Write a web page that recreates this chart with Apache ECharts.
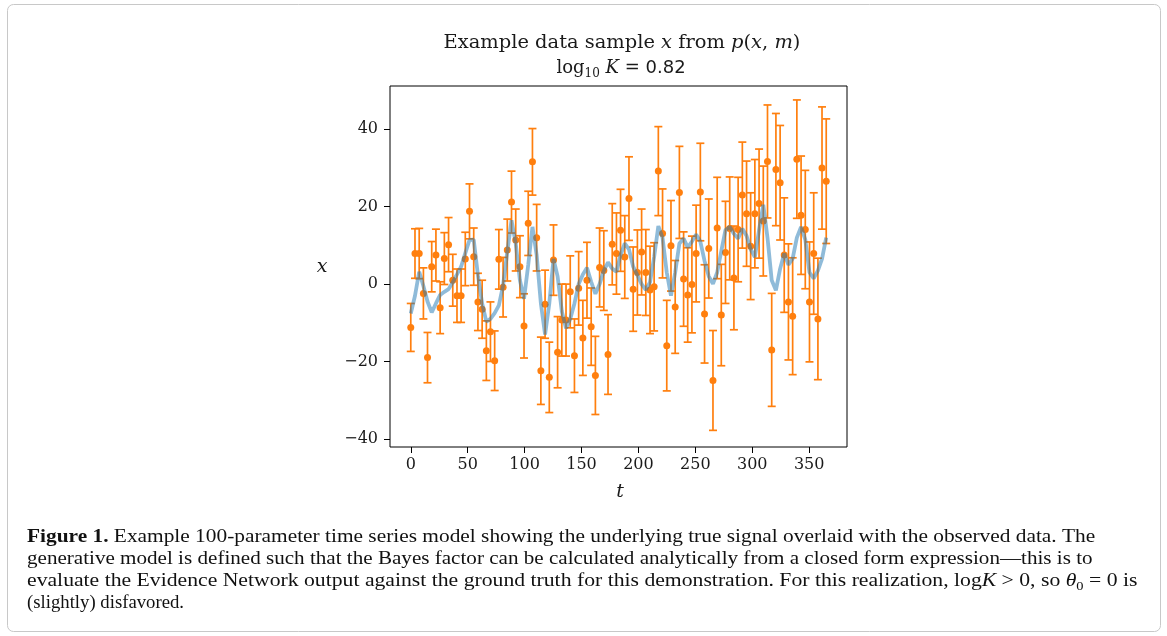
<!DOCTYPE html>
<html>
<head>
<meta charset="utf-8">
<script src="https://cdn.jsdelivr.net/npm/echarts@6/dist/echarts.min.js"></script>
<style>
  html, body { margin: 0; padding: 0; background: #fff; }
  #chart { width: 1167px; height: 636px; }
</style>
</head>
<body>
<div id="chart"></div>
<script>
// ---- data ----
const tValues = [0, 3.7, 7.4, 11.1, 14.7, 18.4, 22.1, 25.8, 29.5, 33.2, 36.9, 40.6, 44.2, 47.9, 51.6, 55.3, 59.0, 62.7, 66.4, 70.0,
  73.7, 77.4, 81.1, 84.8, 88.5, 92.2, 95.9, 99.5, 103.2, 106.9, 110.6, 114.3, 118.0, 121.7, 125.4, 129.0, 132.7, 136.4, 140.1, 143.8,
  147.5, 151.2, 154.8, 158.5, 162.2, 165.9, 169.6, 173.3, 177.0, 180.7, 184.3, 188.0, 191.7, 195.4, 199.1, 202.8, 206.5, 210.2, 213.8, 217.5,
  221.2, 224.9, 228.6, 232.3, 236.0, 239.7, 243.3, 247.0, 250.7, 254.4, 258.1, 261.8, 265.5, 269.2, 272.8, 276.5, 280.2, 283.9, 287.6, 291.3,
  295.0, 298.6, 302.3, 306.0, 309.7, 313.4, 317.1, 320.8, 324.5, 328.1, 331.8, 335.5, 339.2, 342.9, 346.6, 350.3, 354.0, 357.7, 361.3, 365.0];

const observed = [-11.2, 7.9, 7.9, -2.4, -19.0, 4.5, 7.5, -6.1, 6.6, 10.2, 1.0, -3.0, -3.0, 6.5, 18.8, 7.1, -4.6, -6.5, -17.2, -12.3,
  -19.8, 6.4, -0.8, 8.8, 21.2, 11.4, 4.5, -10.8, 15.7, 31.6, 12.0, -22.4, -5.2, -24.1, 6.2, -17.6, -9.3, -9.3, -2.0, -18.5,
  -1.1, -13.9, 1.0, -11.0, -23.6, 4.3, 3.5, -18.2, 10.3, 7.9, 13.9, 7.0, 22.1, -1.3, 3.0, 8.3, 3.0, -1.5, -0.7, 29.2,
  13.1, -15.9, 9.9, -5.9, 23.7, 1.3, -2.8, -0.1, 7.9, 23.8, -7.7, 9.2, -24.9, 14.5, -8.0, 8.2, 14.4, 1.6, 14.1, 23.0,
  18.2, 9.8, 18.2, 20.8, 16.3, 31.7, -17.0, 29.6, 26.2, 7.5, -4.6, -8.3, 32.3, 17.8, 14.1, -4.6, 7.9, -9.0, 30.0, 26.6];

const errors = [6.2, 6.4, 6.5, 6.6, 6.5, 6.5, 6.7, 6.7, 6.7, 7.0, 6.7, 6.9, 6.9, 6.9, 7.1, 7.4, 7.4, 7.5, 7.7, 7.7,
  7.7, 7.7, 7.7, 8.0, 8.0, 8.0, 8.0, 8.3, 8.3, 8.6, 8.6, 8.7, 8.8, 9.1, 9.1, 9.2, 9.3, 9.3, 9.3, 9.5,
  9.5, 9.7, 9.8, 10.0, 10.1, 10.2, 10.3, 10.3, 10.5, 10.5, 10.6, 10.7, 10.8, 10.9, 11.0, 11.1, 11.1, 11.3, 11.4, 11.5,
  11.5, 11.7, 11.7, 12.0, 11.9, 12.2, 12.2, 12.5, 12.5, 12.6, 12.7, 12.8, 12.9, 13.1, 13.1, 13.2, 13.3, 13.4, 13.5, 13.7,
  13.6, 13.8, 14.0, 14.1, 14.2, 14.6, 14.6, 14.5, 14.8, 14.8, 15.0, 15.1, 15.3, 15.3, 15.3, 15.5, 15.7, 15.7, 15.8, 16.1];

const trueSignal = [-7.6, -3.0, 3.2, -0.5, -4.5, -7.3, -5.0, -2.8, -2.0, -1.3, 0.5, 2.5, 4.5, 8.0, 11.4, 11.5, 2.3, -5.0, -9.7, -9.0,
  -7.5, -5.5, -0.3, 8.3, 16.5, 10.5, 1.0, -3.8, 5.0, 14.8, 7.5, -5.0, -13.0, -5.0, 6.5, 2.0, -7.0, -11.4, -9.0, -5.0,
  0.0, 2.5, 4.2, 0.6, -2.5, 0.0, 3.5, 5.6, 4.0, 3.2, 7.5, 10.5, 9.0, 4.5, 2.3, 0.0, -1.5, 0.5, 7.0, 15.0,
  12.0, 3.0, -3.0, 3.0, 10.5, 11.8, 9.5, 11.0, 12.8, 11.0, 6.0, 2.0, 0.1, 3.0, 8.5, 14.0, 14.8, 13.0, 11.8, 14.3,
  12.5, 9.0, 7.0, 14.0, 20.5, 12.0, 1.0, -1.6, 4.0, 7.9, 5.0, 6.6, 12.0, 14.8, 11.5, 3.0, 1.5, 3.5, 6.5, 12.0];

const xTicks = [0, 50, 100, 150, 200, 250, 300, 350];
const yTicks = [-40, -20, 0, 20, 40];

// ---- build chart ----
const chart = echarts.init(document.getElementById('chart'), null, { renderer: 'canvas' });

const ORANGE = '#ff7f0e';
const BLUE = '#1f77b4';
const serif = '"DejaVu Serif", serif';
const capSerif = '"Liberation Serif", serif';
const capHalf = 4;

const errData = tValues.map((t, i) => [t, observed[i] - errors[i], observed[i] + errors[i]]);
const pointData = tValues.map((t, i) => [t, observed[i]]);
const lineData = tValues.map((t, i) => [t, trueSignal[i]]);

function fmtTick(v) { return v < 0 ? '\u2212' + Math.abs(v) : String(v); }

const GRID = { left: 390, top: 86, width: 457, height: 361 };

const option = {
  backgroundColor: '#ffffff',
  animation: false,
  grid: {
    left: GRID.left, top: GRID.top, width: GRID.width, height: GRID.height,
    show: true, borderColor: '#000', borderWidth: 1, backgroundColor: 'transparent'
  },
  xAxis: {
    type: 'value', min: -18.25, max: 383.25,
    axisLine: { show: false, onZero: false },
    splitLine: { show: false },
    axisTick: { show: true, inside: false, length: 6, customValues: xTicks, lineStyle: { color: '#000', width: 1 } },
    axisLabel: { show: true, customValues: xTicks, formatter: fmtTick, margin: 10,
      fontFamily: serif, fontSize: 16, color: '#1a1a1a' }
  },
  yAxis: {
    type: 'value', min: -42.1, max: 51.2,
    axisLine: { show: false, onZero: false },
    splitLine: { show: false },
    axisTick: { show: true, inside: false, length: 6, customValues: yTicks, lineStyle: { color: '#000', width: 1 } },
    axisLabel: { show: true, customValues: yTicks, formatter: fmtTick, margin: 12,
      fontFamily: serif, fontSize: 16, color: '#1a1a1a' }
  },
  series: [
    {
      type: 'custom',
      name: 'errorbars',
      data: errData,
      z: 2,
      encode: { x: 0, y: [1, 2] },
      renderItem: function (params, api) {
        const t = api.value(0);
        const lo = api.coord([t, api.value(1)]);
        const hi = api.coord([t, api.value(2)]);
        const style = { stroke: ORANGE, lineWidth: 1.7 };
        return {
          type: 'group',
          children: [
            { type: 'line', shape: { x1: lo[0], y1: lo[1], x2: hi[0], y2: hi[1] }, style: style },
            { type: 'line', shape: { x1: lo[0] - capHalf, y1: lo[1], x2: lo[0] + capHalf, y2: lo[1] }, style: style },
            { type: 'line', shape: { x1: hi[0] - capHalf, y1: hi[1], x2: hi[0] + capHalf, y2: hi[1] }, style: style }
          ]
        };
      }
    },
    {
      type: 'scatter',
      name: 'observed',
      data: pointData,
      symbol: 'circle',
      symbolSize: 7,
      z: 3,
      itemStyle: { color: ORANGE, opacity: 1 }
    },
    {
      type: 'line',
      name: 'true signal',
      data: lineData,
      showSymbol: false,
      z: 4,
      lineStyle: { color: BLUE, width: 3.8, opacity: 0.5 },
      itemStyle: { color: BLUE }
    }
  ],
  graphic: [
    { type: 'rect', left: 7, top: 4, z: -10, silent: true,
      shape: { width: 1153, height: 627, r: 6 },
      style: { fill: 'transparent', stroke: '#c8c8c8', lineWidth: 1 } },
    { type: 'text', x: 622, y: 43, scaleX: 1.08, silent: true,
      style: {
        text: '{r|Example data sample }{i|x}{r| from }{i|p}{r|(}{i|x}{r|, }{i|m}{r|)}',
        align: 'center', verticalAlign: 'middle',
        rich: {
          r: { fontFamily: serif, fontSize: 18, fill: '#1a1a1a' },
          i: { fontFamily: serif, fontSize: 18, fontStyle: 'italic', fill: '#1a1a1a' }
        }
      }
    },
    { type: 'text', x: 621, y: 68, silent: true,
      style: {
        text: '{r|log}{s|10}{r| }{i|K}{r| = }{n|0.82}',
        align: 'center', verticalAlign: 'middle',
        rich: {
          r: { fontFamily: serif, fontSize: 18, fill: '#1a1a1a', verticalAlign: 'bottom' },
          s: { fontFamily: serif, fontSize: 12, fill: '#1a1a1a', verticalAlign: 'bottom', padding: [0, 0, -3, 0] },
          i: { fontFamily: serif, fontSize: 18, fontStyle: 'italic', fill: '#1a1a1a', verticalAlign: 'bottom' },
          n: { fontFamily: '"DejaVu Sans", sans-serif', fontSize: 18, fill: '#1a1a1a', verticalAlign: 'bottom' }
        }
      }
    },
    { type: 'text', x: 322, y: 267, silent: true,
      style: { text: 'x', fontFamily: serif, fontSize: 19, fontStyle: 'italic', fill: '#1a1a1a',
        align: 'center', verticalAlign: 'middle' } },
    { type: 'text', x: 620, y: 492, silent: true,
      style: { text: 't', fontFamily: serif, fontSize: 19, fontStyle: 'italic', fill: '#1a1a1a',
        align: 'center', verticalAlign: 'middle' } },
    { type: 'text', x: 27, y: 537, scaleX: 1.187, silent: true,
      style: {
        text: '{b|Figure 1.}{r| Example 100-parameter time series model showing the underlying true signal overlaid with the observed data. The}',
        verticalAlign: 'middle',
        rich: {
          b: { fontFamily: capSerif, fontSize: 18, fontWeight: 'bold', fill: '#111' },
          r: { fontFamily: capSerif, fontSize: 18, fill: '#111' }
        }
      }
    },
    { type: 'text', x: 27, y: 559, scaleX: 1.172, silent: true,
      style: {
        text: 'generative model is defined such that the Bayes factor can be calculated analytically from a closed form expression\u2014this is to',
        verticalAlign: 'middle',
        fontFamily: capSerif, fontSize: 18, fill: '#111'
      }
    },
    { type: 'text', x: 27, y: 581, scaleX: 1.205, silent: true,
      style: {
        text: '{r|evaluate the Evidence Network output against the ground truth for this demonstration. For this realization, log}{i|K}{r| > 0, so }{i|\u03b8}{s|0}{r| = 0 is}',
        verticalAlign: 'middle',
        rich: {
          r: { fontFamily: capSerif, fontSize: 18, fill: '#111', verticalAlign: 'bottom' },
          i: { fontFamily: capSerif, fontSize: 18, fontStyle: 'italic', fill: '#111', verticalAlign: 'bottom' },
          s: { fontFamily: capSerif, fontSize: 12, fill: '#111', verticalAlign: 'bottom', padding: [0, 0, -3, 0] }
        }
      }
    },
    { type: 'text', x: 27, y: 603, scaleX: 1.04, silent: true,
      style: {
        text: '(slightly) disfavored.',
        verticalAlign: 'middle',
        fontFamily: capSerif, fontSize: 18, fill: '#111'
      }
    }
  ]
};

chart.setOption(option);
</script>
</body>
</html>
